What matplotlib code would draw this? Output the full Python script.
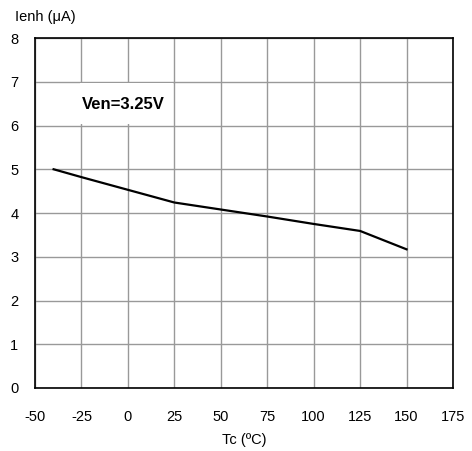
import matplotlib
matplotlib.use("Agg")
import matplotlib.pyplot as plt
from matplotlib.patches import Rectangle

# Ienh vs case temperature at Ven=3.25V
tc = [-40, -25, 0, 25, 50, 75, 100, 125, 150]
ienh = [5.0, 4.82, 4.53, 4.24, 4.08, 3.92, 3.75, 3.59, 3.17]

xticks = [-50, -25, 0, 25, 50, 75, 100, 125, 150, 175]
yticks = [0, 1, 2, 3, 4, 5, 6, 7, 8]

plt.rcParams['font.family'] = ['Liberation Sans', 'DejaVu Sans']
plt.rcParams['axes.unicode_minus'] = False

fig = plt.figure(figsize=(4.72, 4.51), dpi=100)
ax = fig.add_axes([0.0742, 0.1397, 0.8855, 0.776])
ax.set_axisbelow(True)

ax.plot(tc, ienh, color='black', linewidth=1.6, zorder=3)

ax.set_xlim(-50, 175)
ax.set_ylim(0, 8)
ax.set_xticks(xticks)
ax.set_yticks(yticks)
ax.grid(True, color='#999999', linewidth=1.0)
ax.tick_params(length=0, labelsize=10.5, pad=0)
ax.tick_params(axis='x', pad=16)
ax.tick_params(axis='y', pad=12)
for s in ax.spines.values():
    s.set_linewidth(1.2)
    s.set_color('black')

# white label box hides the grid behind the annotation
ax.add_patch(Rectangle((-25.6, 6.03), 50.0, 0.94, facecolor='white',
                       edgecolor='none', zorder=2))
ax.text(-2.5, 6.49, 'Ven=3.25V', fontsize=12, fontweight='bold',
        va='center', ha='center', zorder=4)
ax.set_xlabel('Tc (ºC)', fontsize=10.5, labelpad=6)
fig.text(15 / 472, 1 - 17 / 451, 'Ienh (μA)', fontsize=10.5, va='center', ha='left')

fig.savefig('out.png', dpi=100)
